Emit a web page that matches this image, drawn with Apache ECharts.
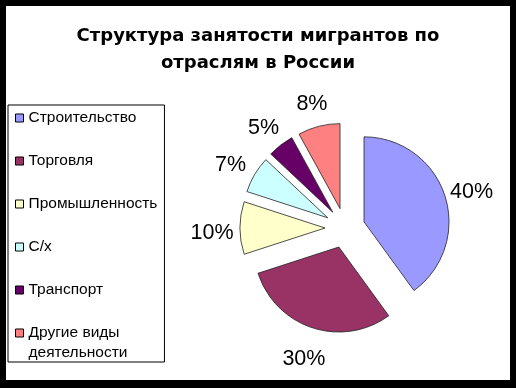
<!DOCTYPE html>
<html><head><meta charset="utf-8">
<script src="https://cdn.jsdelivr.net/npm/echarts@6/dist/echarts.min.js"></script>
<style>
html,body{margin:0;padding:0;background:#000;width:516px;height:388px;overflow:hidden;}
#c{position:absolute;left:6px;top:6px;width:504px;height:374px;background:#fff;}
</style></head><body><div id="c"></div>
<script>
const titleText = 'Структура занятости мигрантов по\nотраслям в России';
const categories = ['Строительство', 'Торговля', 'Промышленность', 'С/х', 'Транспорт', 'Другие виды\nдеятельности'];
const values = [40, 30, 10, 7, 5, 8];
const palette = ['#9999FF', '#993366', '#FFFFCC', '#CCFFFF', '#660066', '#FF8080'];

const FONT = 'Liberation Sans, Arial, sans-serif';
const chart = echarts.init(document.getElementById('c'), null, {renderer: 'canvas'});
const pieCenter = [339, 222];
const labelCenter = [339, 227];

chart.setOption({
  animation: false,
  color: palette,
  title: {
    text: titleText,
    left: 'center',
    top: 17,
    padding: 0,
    textStyle: {fontFamily: 'DejaVu Sans', fontSize: 18, fontWeight: 'bold', color: '#000', lineHeight: 27}
  },
  legend: [{
    orient: 'vertical',
    left: 2, top: 99,
    padding: [3, 7, 62, 7],
    itemWidth: 8, itemHeight: 8, itemGap: 23,
    borderColor: '#000', borderWidth: 1,
    icon: 'rect',
    selectedMode: false,
    data: categories.slice(0, 5),
    itemStyle: {borderColor: '#000', borderWidth: 1},
    textStyle: {fontFamily: FONT, fontSize: 15.5, lineHeight: 20, color: '#000'}
  }, {
    orient: 'vertical',
    left: 9, top: 297,
    padding: 0,
    itemWidth: 8, itemHeight: 8,
    icon: 'rect',
    selectedMode: false,
    data: categories.slice(5),
    formatter: name => '\n' + name,
    itemStyle: {borderColor: '#000', borderWidth: 1},
    textStyle: {fontFamily: FONT, fontSize: 15.5, lineHeight: 20, color: '#000'}
  }],
  series: [{
    type: 'pie',
    center: pieCenter,
    radius: 85,
    startAngle: 90,
    clockwise: true,
    selectedMode: 'multiple',
    selectedOffset: 20,
    data: categories.map((n, i) => ({name: n, value: values[i], selected: true})),
    itemStyle: {borderColor: '#222', borderWidth: 0.8},
    label: {show: false},
    labelLine: {show: false},
    emphasis: {disabled: true},
    silent: true
  }, {
    type: 'pie',
    center: labelCenter,
    radius: [105, 155],
    startAngle: 90,
    clockwise: true,
    silent: true,
    data: values.map(v => ({value: v})),
    itemStyle: {color: 'rgba(0,0,0,0)', borderWidth: 0},
    label: {show: true, position: 'inside', formatter: '{c}%', fontFamily: FONT, fontSize: 21.5, color: '#000'},
    labelLine: {show: false},
    emphasis: {disabled: true}
  }]
});
</script></body></html>
